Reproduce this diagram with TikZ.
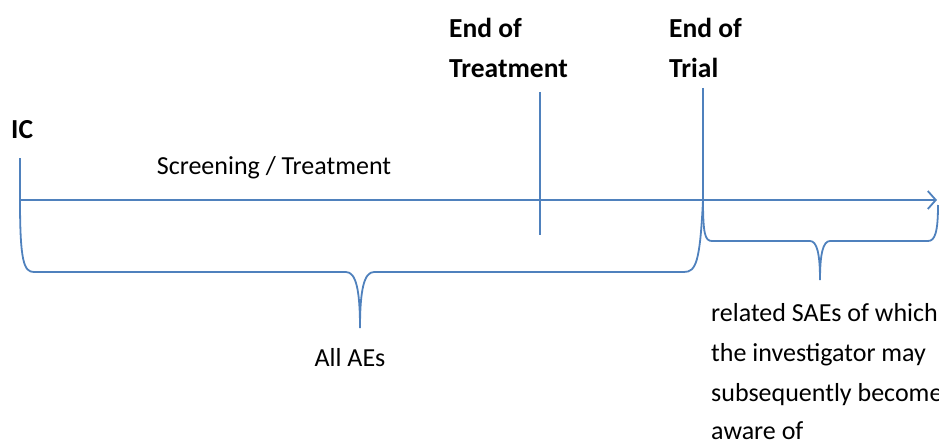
\documentclass[tikz,border=0pt]{standalone}
\usepackage{fontspec}
\setmainfont{Carlito}
\usetikzlibrary{arrows.meta}
\definecolor{lblue}{RGB}{79,129,189}
\begin{document}
\begin{tikzpicture}[x=1pt,y=-1pt,
  ln/.style={draw=lblue,line width=1.8pt},
  lbl/.style={inner sep=0pt,anchor=base west,font=\fontsize{26}{30}\selectfont},
  blbl/.style={inner sep=0pt,anchor=base west,font=\fontsize{27.5}{32}\selectfont\bfseries},
  clbl/.style={inner sep=0pt,anchor=base,font=\fontsize{26}{30}\selectfont}]
\useasboundingbox (0,0) rectangle (939,441);
% coordinates
\coordinate (ic0) at (20,158);
\coordinate (ic1) at (20,200);
\coordinate (eot0) at (540,92);
\coordinate (eot1) at (540,235);
\coordinate (etr0) at (703,88);
\coordinate (etr1) at (703,200);
\coordinate (aend) at (937,200);
% timeline
\draw[ln] (ic0) -- (ic1);
\draw[ln,-{Straight Barb[length=8pt,width=18pt]}] (ic1) -- (aend);
\draw[ln] (eot0) -- (eot1);
\draw[ln] (etr0) -- (etr1);
% braces
\coordinate (b1tip) at (360,328);
\coordinate (b2tip) at (820,280);
\draw[ln] (ic1) .. controls (20,262) and (24,272) .. (34,272) -- (346,272)
  .. controls (356,272) and (360,290) .. (b1tip)
  .. controls (360,290) and (364,272) .. (374,272) -- (684,272)
  .. controls (696,272) and (700,262) .. (etr1);
\draw[ln] (etr1) .. controls (703,234) and (705,241) .. (712,241) -- (810,241)
  .. controls (817,241) and (820,254) .. (b2tip)
  .. controls (820,254) and (823,241) .. (830,241) -- (928,241)
  .. controls (935,241) and (938,232) .. (938,205);
% labels
\node[blbl] (ic) at (11,139) {IC};
\node[blbl] (eotA) at (449,38) {End of};
\node[blbl] (eotB) at (449,78) {Treatment};
\node[blbl] (etrA) at (669,38) {End of};
\node[blbl] (etrB) at (669,78) {Trial};
\node[clbl] (scr) at (274,174) {Screening / Treatment};
\node[clbl] (all) at (350,366) {All AEs};
\node[lbl] (s1) at (711,321) {related SAEs of which};
\node[lbl] (s2) at (711,361) {the investigator may};
\node[lbl] (s3) at (711,401) {subsequently become};
\node[lbl] (s4) at (711,439) {aware of};
\end{tikzpicture}
\end{document}
